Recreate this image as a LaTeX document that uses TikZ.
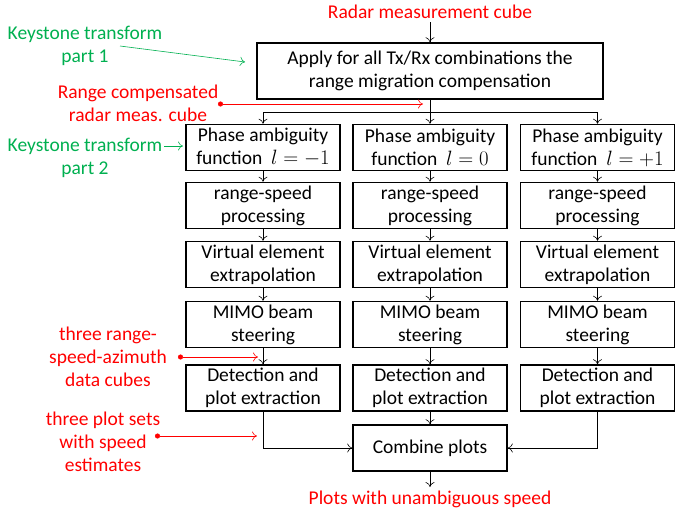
\documentclass[tikz,border=0pt]{standalone}
\usepackage{fontspec}
\setmainfont{Carlito}
\usetikzlibrary{arrows.meta}
\definecolor{kgreen}{RGB}{0,176,80}
\begin{document}
\begin{tikzpicture}[x=1pt,y=-1pt,
  txt/.style={font=\fontsize{19.5}{23}\selectfont},
  box/.style={txt,draw,line width=1.6pt,minimum width=154pt,minimum height=46pt,
    inner sep=0pt,align=center},
  flow/.style={-{To[length=5pt,width=9pt]},line width=0.6pt},
  rednote/.style={txt,text=red,align=center},
  greennote/.style={txt,text=kgreen,align=center},
  redarrow/.style={{Circle[length=5pt]}-{To[length=5pt,width=9pt]},draw=red,line width=0.6pt},
  greenarrow/.style={-{To[length=5pt,width=9pt]},draw=kgreen,line width=0.6pt}]
\useasboundingbox (0,0) rectangle (675,512);

% input and range migration compensation
\node[rednote] (in) at (430,12) {Radar measurement cube};
\node[box,minimum width=346pt,minimum height=56pt] (top) at (430,71)
  {Apply for all Tx/Rx combinations the\\range migration compensation};
\draw[flow] (in) -- (top);

% three processing chains
\foreach \c/\x/\l in {1/263/-1, 2/430/0, 3/597.5/+1}{
  \node[box] (p\c) at (\x,147.5) {Phase ambiguity\\function\ \ $l=\l$};
  \node[box] (r\c) at (\x,205.5) {range-speed\\processing};
  \node[box] (v\c) at (\x,264.5) {Virtual element\\extrapolation};
  \node[box] (m\c) at (\x,324.5) {MIMO beam\\steering};
  \node[box] (d\c) at (\x,388) {Detection and\\plot extraction};
  \draw[flow] (p\c) -- (r\c);
  \draw[flow] (r\c) -- (v\c);
  \draw[flow] (v\c) -- (m\c);
  \draw[flow] (m\c) -- (d\c);
}

% split into the three chains
\coordinate (br) at (430,112);
\draw[line width=0.6pt] (top.south) -- (br);
\draw[line width=0.6pt] (p1.north |- br) -- (p3.north |- br);
\draw[flow] (br) -- (p2.north);
\draw[flow] (p1.north |- br) -- (p1.north);
\draw[flow] (p3.north |- br) -- (p3.north);

% merging of the plot sets
\node[box] (comb) at (430,448) {Combine plots};
\node[rednote] (out) at (430,499) {Plots with unambiguous speed};
\draw[flow] (d2) -- (comb);
\draw[flow] (d1.south) |- (comb.west);
\draw[flow] (d3.south) |- (comb.east);
\draw[flow] (comb) -- (out);

% annotations
\node[greennote] (ks1) at (85,46) {Keystone transform\\part 1};
\coordinate (ks1a) at (120,46);
\coordinate (ks1b) at (245,62);
\draw[greenarrow] (ks1a) -- (ks1b);

\node[greennote] (ks2) at (85,157.5) {Keystone transform\\part 2};
\coordinate (ks2a) at (164,146);
\coordinate (ks2b) at (183,146);
\draw[greenarrow] (ks2a) -- (ks2b);

\node[rednote] (rc) at (138,103) {Range compensated\\radar meas. cube};
\coordinate (rca) at (218,104);
\coordinate (rcb) at (423,104);
\draw[redarrow] (rca) -- (rcb);

\node[rednote] (cubes) at (108,357) {three range-\\speed-azimuth\\data cubes};
\coordinate (cba) at (178,357);
\coordinate (cbb) at (258,357);
\draw[redarrow] (cba) -- (cbb);

\node[rednote] (plots) at (103,442) {three plot sets\\with speed\\estimates};
\coordinate (pla) at (155,436);
\coordinate (plb) at (257,436);
\draw[redarrow] (pla) -- (plb);
\end{tikzpicture}
\end{document}
